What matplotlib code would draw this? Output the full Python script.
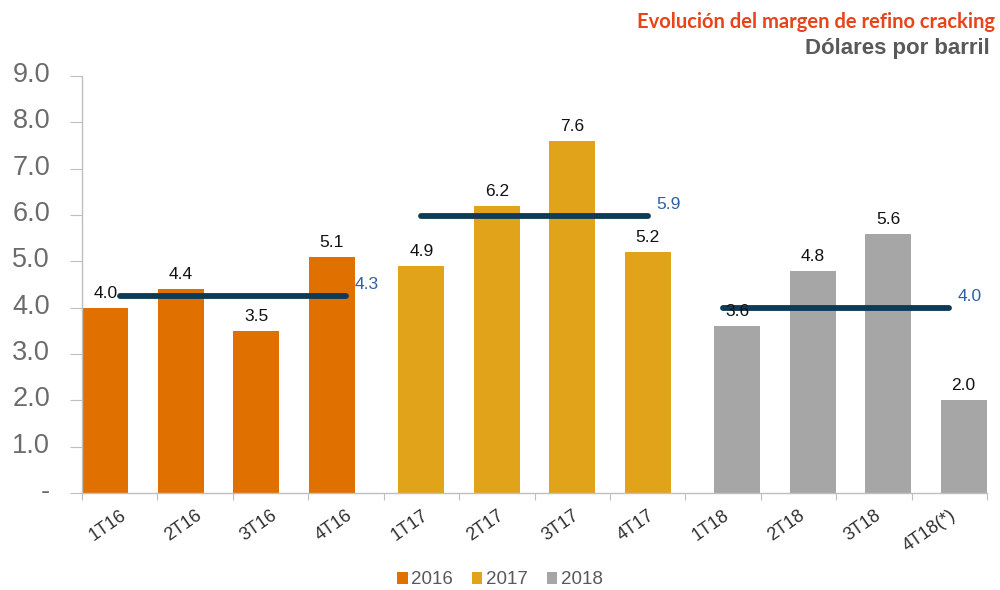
import matplotlib
matplotlib.use("Agg")
import matplotlib.pyplot as plt
import matplotlib.transforms as mtransforms
from matplotlib.patches import Patch
import numpy as np

categories = ["1T16", "2T16", "3T16", "4T16", "1T17", "2T17", "3T17", "4T17",
              "1T18", "2T18", "3T18", "4T18(*)"]
values = [4.0, 4.4, 3.5, 5.1, 4.9, 6.2, 7.6, 5.2, 3.6, 4.8, 5.6, 2.0]
series_years = ["2016", "2017", "2018"]
series_index = [0, 0, 0, 0, 1, 1, 1, 1, 2, 2, 2, 2]
avg_values = [4.25, 5.975, 4.0]
avg_labels = ["4.3", "5.9", "4.0"]
avg_spans = [(0, 3), (4, 7), (8, 11)]
yticks = [0, 1, 2, 3, 4, 5, 6, 7, 8, 9]
ytick_labels = ["-", "1.0", "2.0", "3.0", "4.0", "5.0", "6.0", "7.0", "8.0", "9.0"]

colors = ["#E07000", "#E0A31A", "#A6A6A6"]
offsets = [-0.19, 0.0, 0.19]
font = "Liberation Sans"

fig = plt.figure(figsize=(10, 5.9), dpi=100)
ax = fig.add_axes([0.082, 0.1644, 0.905, 0.7066])

x = np.arange(len(categories))
for i, (xi, v) in enumerate(zip(x, values)):
    s = series_index[i]
    xc = xi + offsets[s]
    ax.bar(xc, v, width=0.61, color=colors[s], zorder=2)
    ax.annotate(f"{v:.1f}", (xc, v), xytext=(0, 5), textcoords="offset points",
                ha="center", va="bottom", fontsize=12.5, family=font,
                color="#111111", zorder=4)

for (a, b), av, lab in zip(avg_spans, avg_values, avg_labels):
    ax.plot([a, b], [av, av], color="#0D3B56", lw=4.2, solid_capstyle="round", zorder=3)
    ax.annotate(lab, (b, av), xytext=(6, 3), textcoords="offset points",
                ha="left", va="bottom", fontsize=12.5, family=font,
                color="#2F5FA6", zorder=4)

ax.set_xlim(-0.5, len(categories) - 0.5)
ax.set_ylim(0, 9)

for side in ["top", "right"]:
    ax.spines[side].set_visible(False)
for side in ["left", "bottom"]:
    ax.spines[side].set_color("#BFBFBF")
    ax.spines[side].set_linewidth(1.0)

ax.set_yticks(yticks)
ax.set_yticklabels(ytick_labels, fontsize=19.5, family=font, color="#6B6B6B")
ax.tick_params(axis="y", direction="out", length=9, color="#BFBFBF", pad=14)
off = mtransforms.ScaledTranslation(0, 4 / 100, fig.dpi_scale_trans)
for lbl in ax.get_yticklabels():
    lbl.set_transform(lbl.get_transform() + off)

ax.set_xticks(np.arange(-0.5, len(categories), 1.0))
ax.set_xticklabels([])
ax.tick_params(axis="x", which="major", direction="out", length=5, color="#BFBFBF")
ax.set_xticks(x, minor=True)
ax.set_xticklabels(categories, minor=True, rotation=35, ha="right", va="top",
                   rotation_mode="anchor", fontsize=13, family=font, color="#303030")
ax.tick_params(axis="x", which="minor", length=0, pad=10)

handles = [Patch(facecolor=c, edgecolor="none") for c in colors]
leg = fig.legend(handles, series_years, loc="center", bbox_to_anchor=(0.5, 10 / 590),
                 bbox_transform=fig.transFigure,
                 ncol=3, frameon=False, handlelength=0.55, handleheight=0.55,
                 handletextpad=0.2, columnspacing=1.0,
                 prop={"family": font, "size": 13.5})
for t in leg.get_texts():
    t.set_color("#595959")

fig.text(0.995, 0.962, "Evolución del margen de refino cracking", ha="right", va="center",
         fontsize=14.5, fontweight="bold", family="Lato", color="#E8431A")
fig.text(0.990, 0.918, "Dólares por barril", ha="right", va="center",
         fontsize=16, fontweight="bold", family=font, color="#595959")

fig.savefig("out.png", dpi=100)
